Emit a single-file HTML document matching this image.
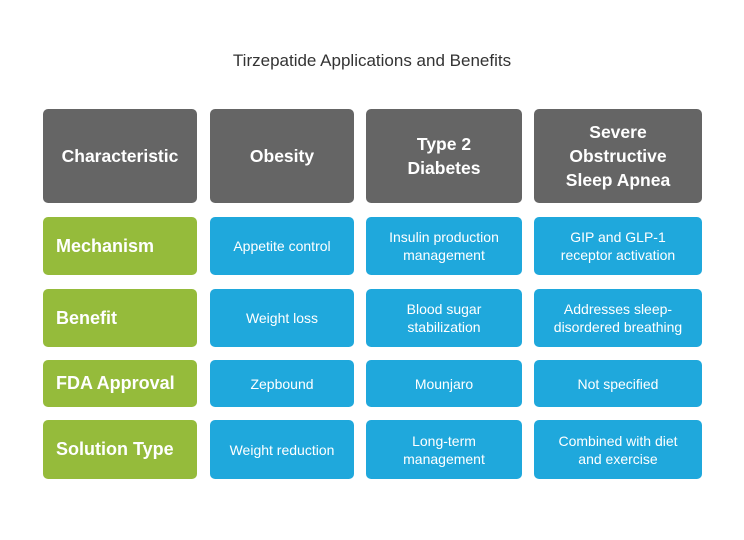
<!DOCTYPE html>
<html><head><style>
body{margin:0;width:744px;height:540px;background:#fff;position:relative;font-family:"Liberation Sans",Arial,sans-serif;overflow:hidden}
.t{position:absolute;top:51px;left:0;width:744px;text-align:center;font-size:17px;color:#333}
.b{position:absolute;display:flex;align-items:center;justify-content:center;text-align:center;color:#fff;border-radius:5px;box-sizing:border-box}
.h{background:#656565;font-weight:bold;font-size:17.5px;line-height:24px}
.g{background:#95bb3b;font-weight:bold;font-size:18px;justify-content:flex-start;padding-left:13px}
.c{background:#1fa8dc;font-size:14px;line-height:18px}
</style></head><body>
<div class="t">Tirzepatide Applications and Benefits</div>
<div class="b h" style="left:43px;top:109px;width:154px;height:94px">Characteristic</div>
<div class="b h" style="left:210px;top:109px;width:144px;height:94px">Obesity</div>
<div class="b h" style="left:366px;top:109px;width:156px;height:94px">Type 2<br>Diabetes</div>
<div class="b h" style="left:534px;top:109px;width:168px;height:94px">Severe<br>Obstructive<br>Sleep Apnea</div>

<div class="b g" style="left:43px;top:217px;width:154px;height:58px">Mechanism</div>
<div class="b c" style="left:210px;top:217px;width:144px;height:58px">Appetite control</div>
<div class="b c" style="left:366px;top:217px;width:156px;height:58px">Insulin production<br>management</div>
<div class="b c" style="left:534px;top:217px;width:168px;height:58px">GIP and GLP-1<br>receptor activation</div>

<div class="b g" style="left:43px;top:289px;width:154px;height:58px">Benefit</div>
<div class="b c" style="left:210px;top:289px;width:144px;height:58px">Weight loss</div>
<div class="b c" style="left:366px;top:289px;width:156px;height:58px">Blood sugar<br>stabilization</div>
<div class="b c" style="left:534px;top:289px;width:168px;height:58px">Addresses sleep-<br>disordered breathing</div>

<div class="b g" style="left:43px;top:360px;width:154px;height:47px">FDA Approval</div>
<div class="b c" style="left:210px;top:360px;width:144px;height:47px">Zepbound</div>
<div class="b c" style="left:366px;top:360px;width:156px;height:47px">Mounjaro</div>
<div class="b c" style="left:534px;top:360px;width:168px;height:47px">Not specified</div>

<div class="b g" style="left:43px;top:420px;width:154px;height:59px">Solution Type</div>
<div class="b c" style="left:210px;top:420px;width:144px;height:59px">Weight reduction</div>
<div class="b c" style="left:366px;top:420px;width:156px;height:59px">Long-term<br>management</div>
<div class="b c" style="left:534px;top:420px;width:168px;height:59px">Combined with diet<br>and exercise</div>
</body></html>
